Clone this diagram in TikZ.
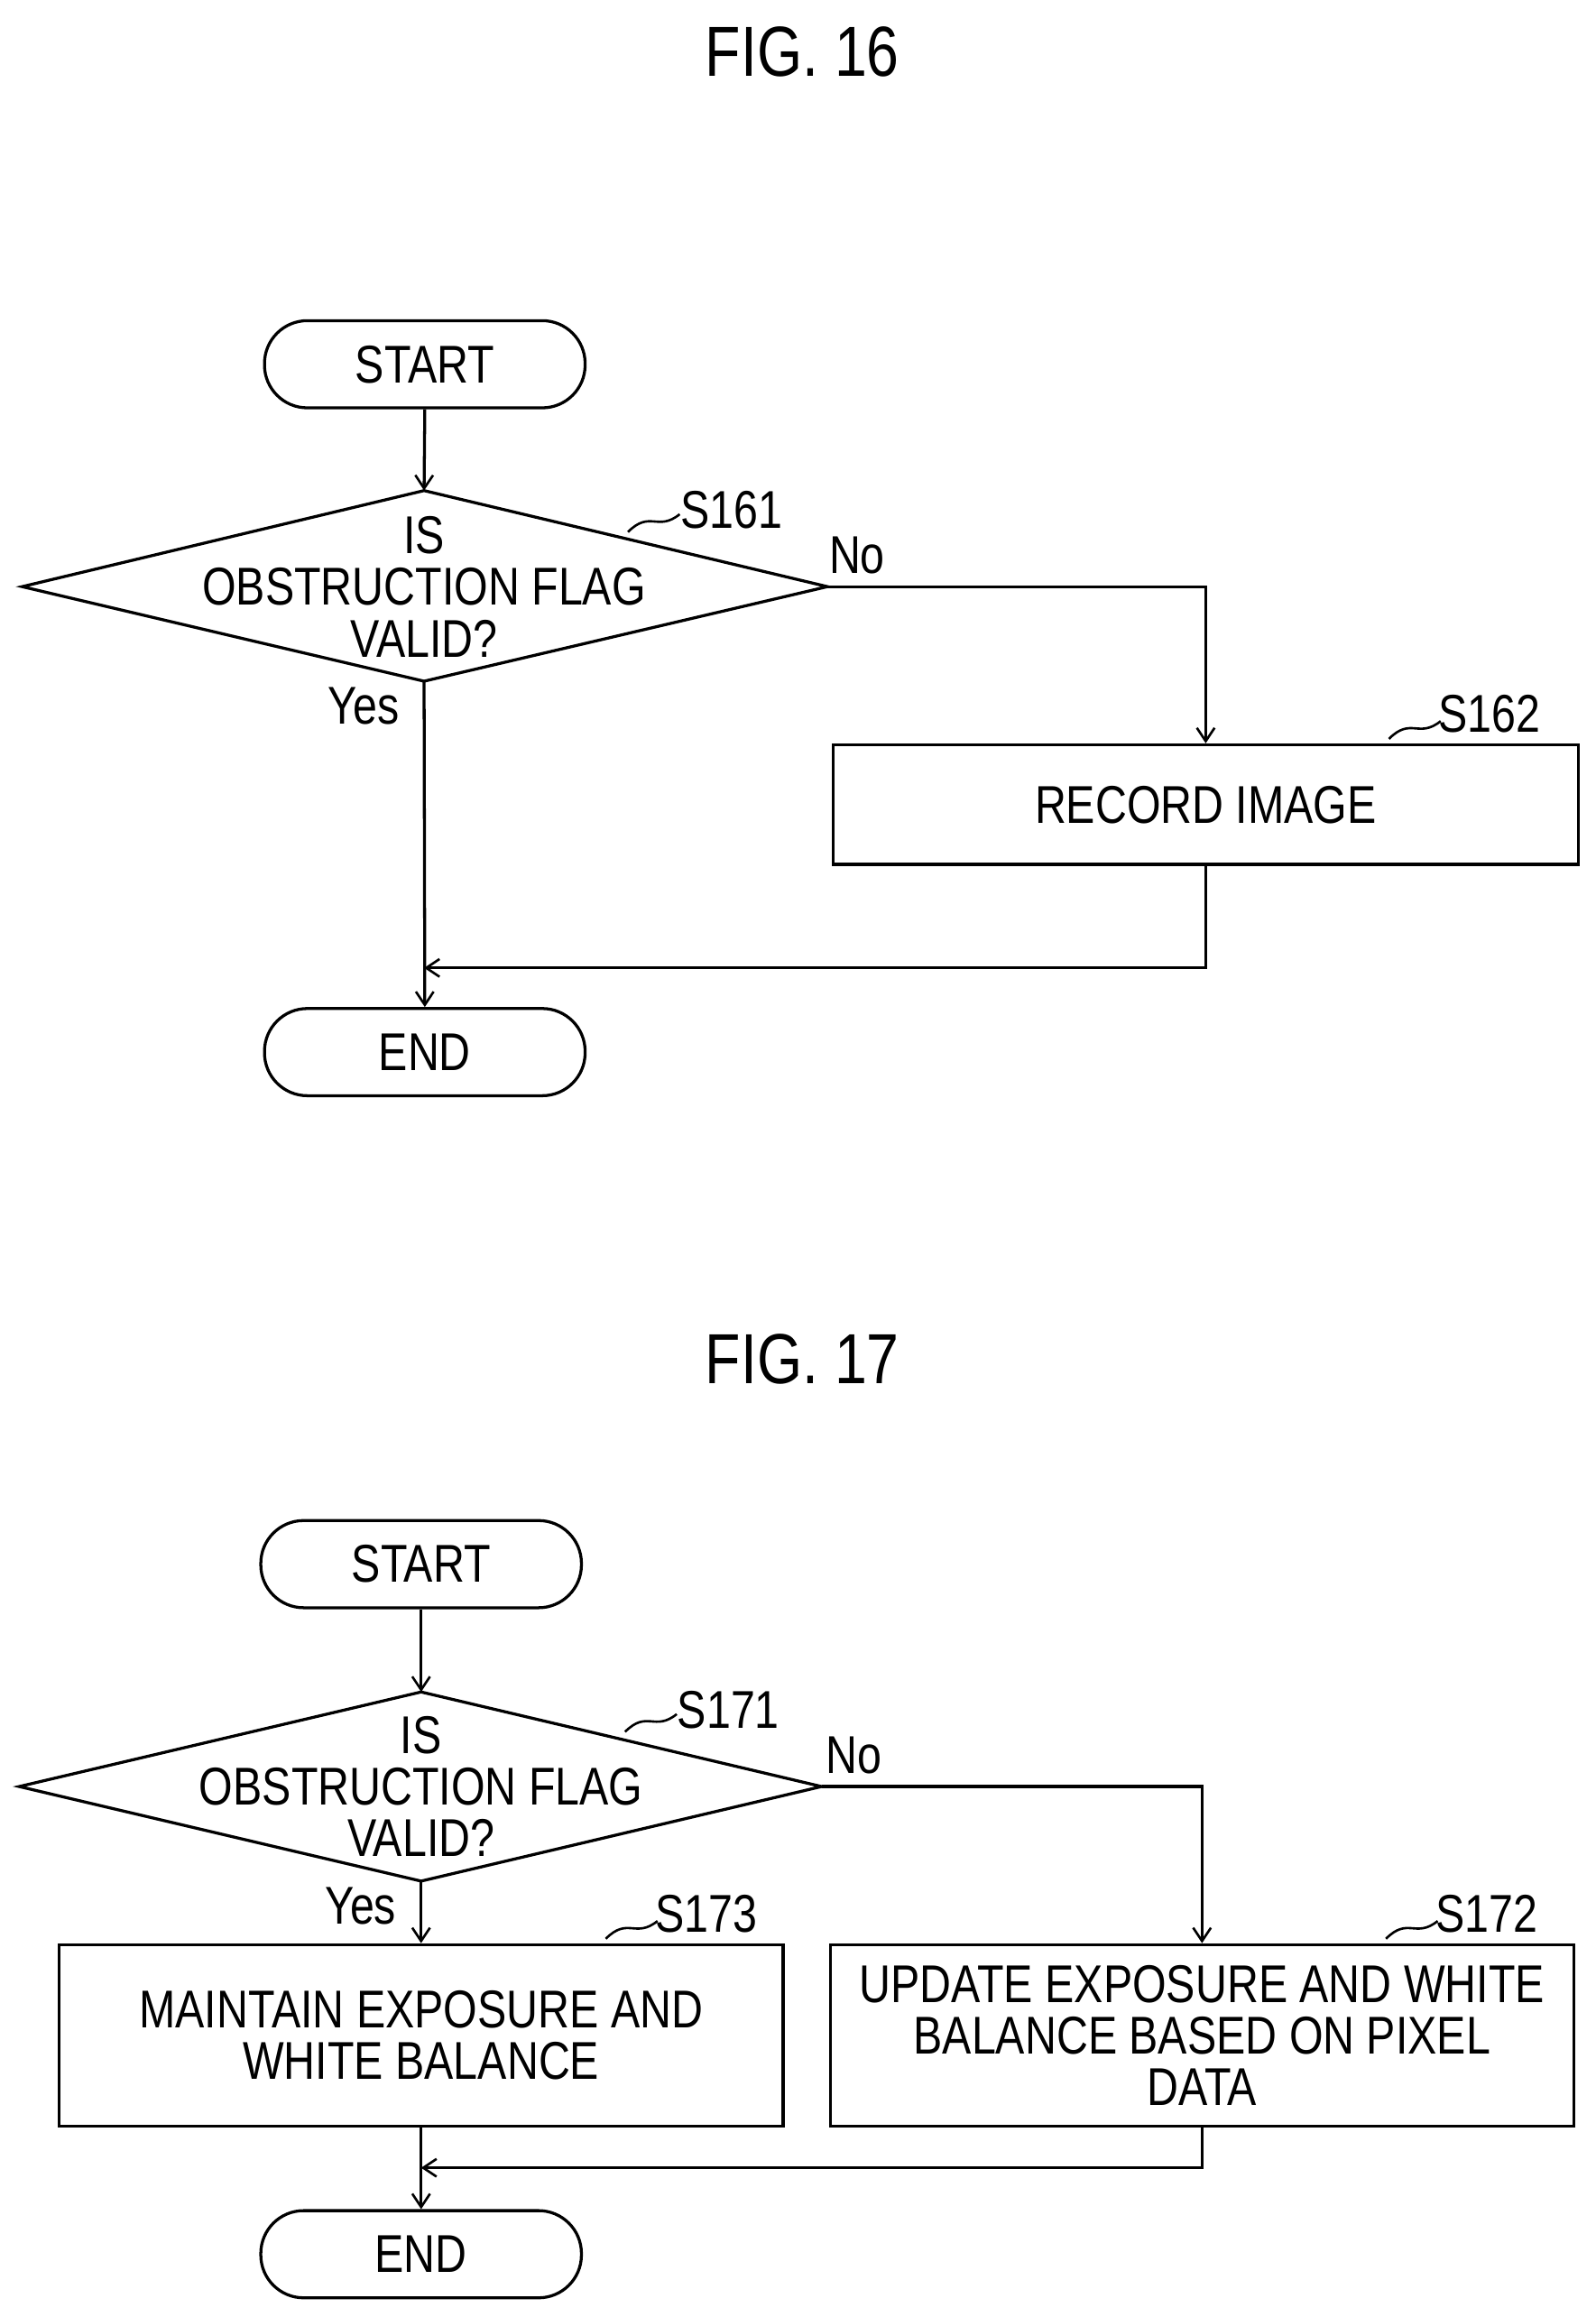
\documentclass[tikz,border=0pt]{standalone}
\usepackage{fontspec}
\setmainfont{Liberation Sans}[FakeStretch=0.82]
\usetikzlibrary{arrows.meta}
\begin{document}
\begin{tikzpicture}[x=1pt,y=-1pt,line width=2pt,
  txt/.style={font=\fontsize{36}{35}\selectfont,align=center,inner sep=0},
  ttl/.style={font=\fontsize{48}{50}\selectfont,inner sep=0},
  term/.style={draw,rounded corners=29pt,minimum width=217pt,minimum height=59pt,txt},
  box/.style={draw,txt},
  arr/.style={-{Straight Barb[length=9pt,width=12pt,line width=1.6pt]}},
  sq/.style={line width=1.6pt}]
\useasboundingbox (0,0) rectangle (1080,1568);
% FIG 16
\node[ttl] (t16) at (543,35) {FIG. 16};
\node[term] (s1) at (287.5,246.5) {START};
\coordinate (d1t) at (287,332); \coordinate (d1b) at (287,461);
\coordinate (d1l) at (15,397); \coordinate (d1r) at (560,397);
\draw (d1t) -- (d1r) -- (d1b) -- (d1l) -- cycle;
\node[txt] (d1) at (287,397) {IS\\OBSTRUCTION FLAG\\VALID?};
\node[box,minimum width=504pt,minimum height=81pt] (b162) at (816,544.5) {RECORD IMAGE};
\node[term] (e1) at (287.5,712) {END};
\node[txt] (l161) at (495,345) {S161};
\node[txt] (l162) at (1008,483) {S162};
\node[txt] (no1) at (580,376) {No};
\node[txt] (yes1) at (246,478) {Yes};
\draw[sq] (425,360) .. controls (440,345) and (445,360) .. (460,348);
\draw[sq] (940,500) .. controls (955,485) and (960,500) .. (975,488);
\draw[arr] (s1.south) -- (d1t);
\draw[arr] (d1r) -| (b162.north);
\coordinate (j1) at (816,655);
\draw[arr] (d1b) -- (e1.north);
\draw[arr] (b162.south) -- (j1) -- (287,655);
% FIG 17
\node[ttl] (t17) at (543,920) {FIG. 17};
\node[term] (s2) at (285,1058.5) {START};
\coordinate (d2t) at (285,1145); \coordinate (d2b) at (285,1273);
\coordinate (d2l) at (13,1209); \coordinate (d2r) at (556,1209);
\draw (d2t) -- (d2r) -- (d2b) -- (d2l) -- cycle;
\node[txt] (d2) at (285,1209) {IS\\OBSTRUCTION FLAG\\VALID?};
\node[box,minimum width=490pt,minimum height=123pt] (b173) at (285,1377.5) {MAINTAIN EXPOSURE AND\\WHITE BALANCE};
\node[box,minimum width=503pt,minimum height=123pt] (b172) at (813.5,1377.5) {UPDATE EXPOSURE AND WHITE\\BALANCE BASED ON PIXEL\\DATA};
\node[term] (e2) at (285,1525.5) {END};
\node[txt] (l171) at (493,1157) {S171};
\node[txt] (l173) at (478,1295) {S173};
\node[txt] (l172) at (1006,1295) {S172};
\node[txt] (no2) at (578,1188) {No};
\node[txt] (yes2) at (244,1290) {Yes};
\draw[sq] (423,1172) .. controls (438,1157) and (443,1172) .. (458,1160);
\draw[sq] (410,1312) .. controls (425,1297) and (430,1312) .. (445,1300);
\draw[sq] (938,1312) .. controls (953,1297) and (958,1312) .. (973,1300);
\draw[arr] (s2.south) -- (d2t);
\draw[arr] (d2b) -- (b173.north);
\draw[arr] (d2r) -| (b172.north);
\draw[arr] (b173.south) -- (e2.north);
\coordinate (j2) at (813.5,1467);
\draw[arr] (b172.south) -- (j2) -- (285,1467);
\end{tikzpicture}
\end{document}
